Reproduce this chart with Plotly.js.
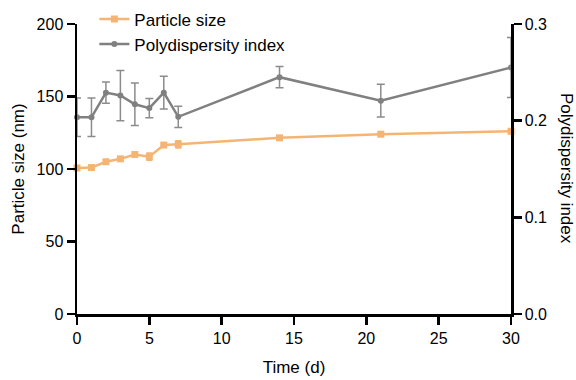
<!DOCTYPE html>
<html>
<head>
<meta charset="utf-8">
<script src="https://cdn.plot.ly/plotly-3.0.1.min.js"></script>
<style>html,body{margin:0;padding:0;background:#fff;}#chart{width:576px;height:380px;}</style>
</head>
<body>
<div id="chart"></div>
<script>
const days = [0, 1, 2, 3, 4, 5, 6, 7, 14, 21, 30];
const particleSize = [100.7, 101, 105, 107, 110, 108.5, 116.5, 117, 121.5, 124, 126];
const particleSizeErr = [1, 1, 1, 1, 1, 2.5, 1, 2.5, 1, 1, 1];
const pdi = [0.2035, 0.2035, 0.229, 0.226, 0.217, 0.213, 0.229, 0.204, 0.245, 0.2207, 0.255];
const pdiErr = [0.02, 0.02, 0.011, 0.026, 0.022, 0.01, 0.017, 0.011, 0.011, 0.017, 0.031];

const fontFam = 'Liberation Sans, Arial, sans-serif';
const orange = '#F4B574';
const gray = '#808080';

const traces = [
  {
    x: days, y: particleSize, name: 'Particle size', type: 'scatter', mode: 'lines+markers',
    line: {color: orange, width: 2.5},
    marker: {color: orange, symbol: 'square', size: 7},
    error_y: {type: 'data', array: particleSizeErr, visible: true, color: orange, thickness: 1.5, width: 3},
    cliponaxis: false, yaxis: 'y'
  },
  {
    x: days, y: pdi, name: 'Polydispersity index', type: 'scatter', mode: 'lines+markers',
    line: {color: gray, width: 2.5},
    marker: {color: gray, symbol: 'circle', size: 6},
    error_y: {type: 'data', array: pdiErr, visible: true, color: '#8c8c8c', thickness: 1.5, width: 4},
    cliponaxis: false, yaxis: 'y2'
  }
];

const layout = {
  width: 576, height: 380,
  margin: {l: 77, r: 65, t: 24, b: 66, autoexpand: false},
  paper_bgcolor: '#fff', plot_bgcolor: '#fff',
  font: {family: fontFam, size: 16, color: '#000'},
  showlegend: true,
  legend: {x: 0.04, y: 1.078, xanchor: 'left', yanchor: 'top', bgcolor: 'rgba(0,0,0,0)',
           font: {size: 17, family: fontFam}, tracegroupgap: 0},
  xaxis: {
    range: [0, 30], dtick: 5, tick0: 0, showgrid: false, zeroline: false,
    showline: true, linecolor: '#000', linewidth: 2.5,
    ticks: 'outside', ticklen: 8, tickwidth: 2.5, tickcolor: '#000',
    tickfont: {size: 16}, title: {text: 'Time (d)', font: {size: 17}, standoff: 16}
  },
  yaxis: {
    range: [0, 200], dtick: 50, tick0: 0, showgrid: false, zeroline: false,
    showline: true, linecolor: '#000', linewidth: 2.5,
    ticks: 'outside', ticklen: 8, tickwidth: 2.5, tickcolor: '#000',
    tickfont: {size: 16}, title: {text: 'Particle size (nm)', font: {size: 17}, standoff: 8}
  },
  yaxis2: {
    range: [0, 0.3], dtick: 0.1, tick0: 0, tickformat: '.1f', overlaying: 'y', side: 'right',
    showgrid: false, zeroline: false,
    showline: true, linecolor: '#000', linewidth: 2.5,
    ticks: 'outside', ticklen: 8, tickwidth: 2.5, tickcolor: '#000',
    tickfont: {size: 16}
  },
  annotations: [{
    text: 'Polydispersity index', xref: 'paper', yref: 'paper', x: 1.129, y: 0.5,
    xanchor: 'center', yanchor: 'middle', textangle: 90, showarrow: false,
    font: {size: 17, family: fontFam}
  }]
};

Plotly.newPlot('chart', traces, layout, {displayModeBar: false, staticPlot: true});
</script>
</body>
</html>
